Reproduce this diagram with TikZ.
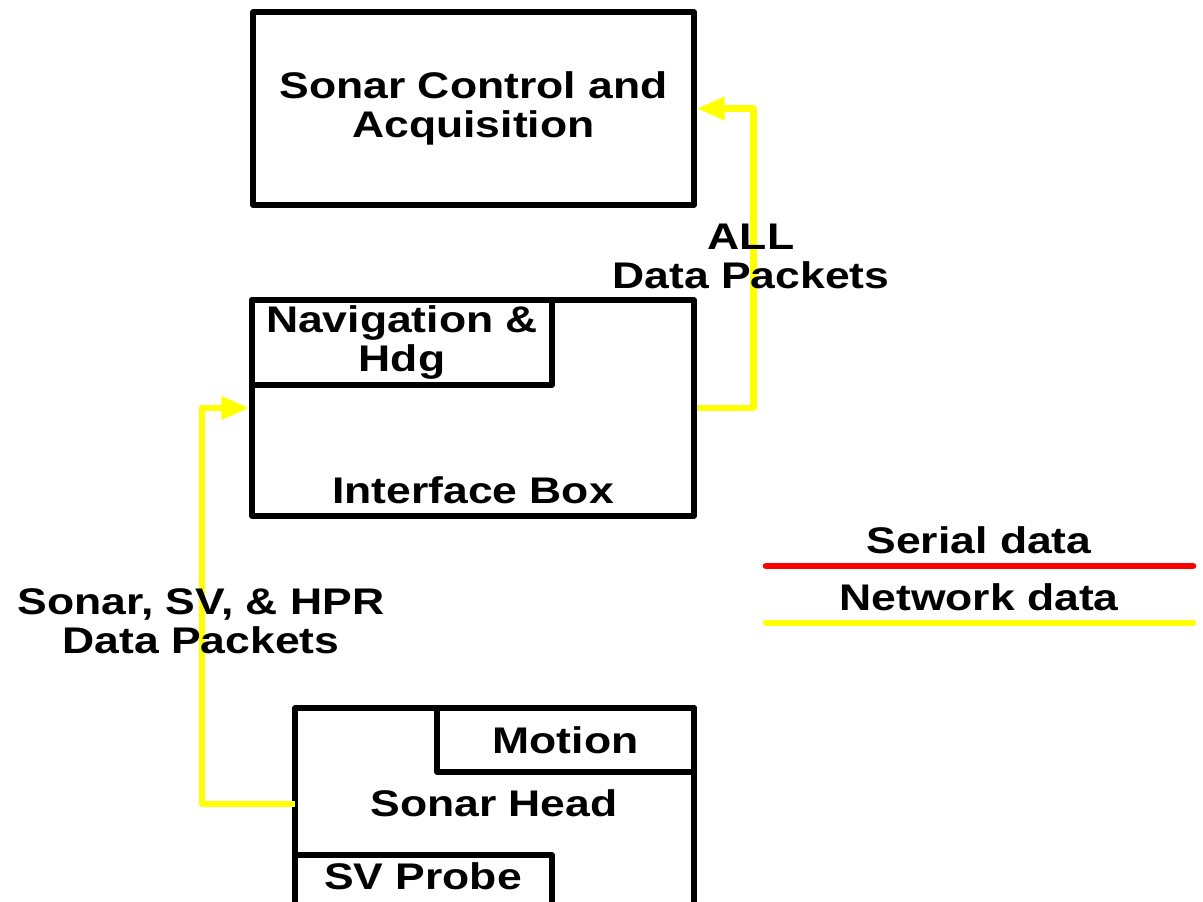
\documentclass[tikz,border=0pt]{standalone}
\usepackage{fontspec}
\setmainfont{Liberation Sans}[FakeStretch=1.2]
\usetikzlibrary{arrows.meta}

\begin{document}
\begin{tikzpicture}[x=0.75pt,y=-0.75pt,
  every node/.style={font=\fontsize{27.8}{29.25}\selectfont\bfseries, align=center, inner sep=0pt},
  blk/.style={draw=black, line width=4pt, line join=round, rectangle},
  net/.style={draw={rgb,255:red,255;green,255;blue,0}, line width=5pt, line join=round},
  netarrow/.style={net, -{Triangle[length=21pt,width=16.5pt]}},
  legendline/.style={line width=5pt, line cap=round}
]
\useasboundingbox (0,0) rectangle (1203,901);
\clip (0,0) rectangle (1203,901);
\definecolor{netyellow}{RGB}{255,255,0}
\definecolor{serialred}{RGB}{255,0,0}

% Sonar control and acquisition
\node[blk, minimum width=441*0.75pt, minimum height=193*0.75pt] (sac) at (473.5,108.5)
  {Sonar Control and\\Acquisition};

% Interface box with navigation sub-block
\node[blk, minimum width=442*0.75pt, minimum height=216*0.75pt] (iface) at (473,408) {};
\node[blk, minimum width=300*0.75pt, minimum height=85*0.75pt] (nav) at (402,342.5)
  {Navigation \&\\Hdg};
\node (ifacelbl) at (473,490) {Interface Box};

% Sonar head with motion sensor and SV probe
\node[blk, minimum width=399*0.75pt, minimum height=207*0.75pt] (head) at (494.5,811.5) {};
\node[blk, minimum width=257*0.75pt, minimum height=64*0.75pt] (motion) at (565.5,740) {Motion};
\node[blk, minimum width=257*0.75pt, minimum height=60*0.75pt] (svp) at (423.5,885) {};
\node (svplbl) at (423,876) {SV Probe};
\node (headlbl) at (494,803) {Sonar Head};
\coordinate (headout) at (295,804);

% Network data paths
\draw[netarrow] (iface.east) -- ++(57,0) |- (sac.east);
\draw[netarrow] (headout) -- ++(-93,0) |- (iface.west);

% Path labels
\node (lblall) at (751,256.5) {ALL\\Data Packets};
\node (lblhead) at (201,621.5) {Sonar, SV, \& HPR\\Data Packets};

% Legend
\node (legser) at (979,540) {Serial data};
\coordinate (sera) at (766,566);
\coordinate (serb) at (1193,566);
\draw[legendline, serialred] (sera) -- (serb);
\node (legnet) at (979,597) {Network data};
\coordinate (neta) at (766,623);
\coordinate (netb) at (1193,623);
\draw[legendline, netyellow] (neta) -- (netb);
\end{tikzpicture}
\end{document}
